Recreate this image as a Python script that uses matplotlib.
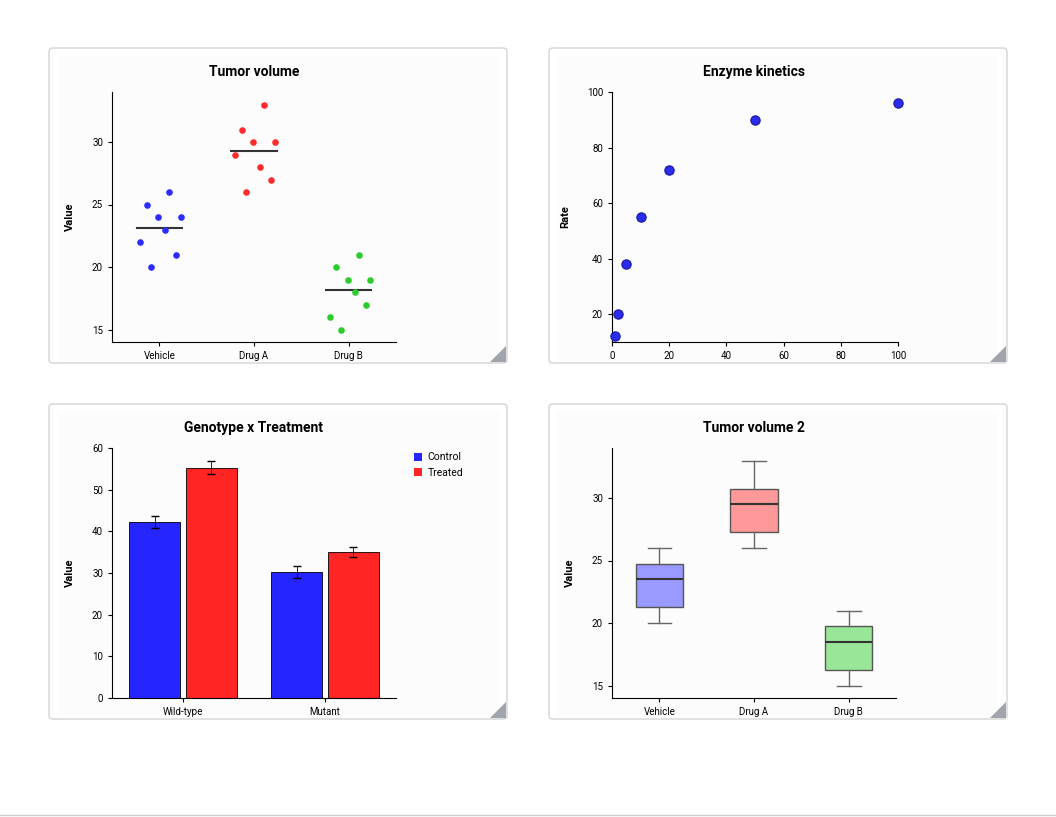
import numpy as np
import matplotlib.pyplot as plt
from matplotlib.patches import FancyBboxPatch, Polygon

groups = ['Vehicle', 'Drug A', 'Drug B']
vehicle = [22, 25, 20, 24, 23, 26, 21, 24]
drug_a = [29, 31, 26, 30, 28, 33, 27, 30]
drug_b = [16, 20, 15, 19, 18, 21, 17, 19]
jitter = [-0.2, -0.13, -0.085, -0.01, 0.065, 0.105, 0.18, 0.225]

substrate = [1, 2, 5, 10, 20, 50, 100]
rate = [12, 20, 38, 55, 72, 90, 96]

genotypes = ['Wild-type', 'Mutant']
control_mean = [42.3, 30.3]
control_err = [1.5, 1.5]
treated_mean = [55.3, 35.0]
treated_err = [1.5, 1.2]

W, H = 1056, 817
fig = plt.figure(figsize=(W / 100, H / 100), dpi=100)
plt.rcParams['font.family'] = ['Roboto', 'DejaVu Sans']


def ax_px(l, t, r, b):
    return fig.add_axes([l / W, 1 - b / H, (r - l) / W, (b - t) / H])


def panel(l, t, r, b, title, tx, ty):
    fig.patches.append(FancyBboxPatch((l / W, 1 - b / H), (r - l) / W, (b - t) / H,
                                      boxstyle='round,pad=0,rounding_size=0.004',
                                      transform=fig.transFigure, fc='white', ec='#d4d4d4', lw=1,
                                      zorder=-3))
    fig.patches.append(FancyBboxPatch(((l + 8) / W, 1 - (b - 2) / H), (r - l - 16) / W, (b - t - 10) / H,
                                      boxstyle='square,pad=0', transform=fig.transFigure,
                                      fc='#fcfcfc', ec='none', zorder=-2))
    fig.patches.append(Polygon([((r - 1) / W, 1 - (b - 17) / H), ((r - 1) / W, 1 - (b - 1) / H),
                                ((r - 17) / W, 1 - (b - 1) / H)], closed=True,
                               transform=fig.transFigure, fc='#a0a4ac', ec='none', zorder=-1))
    fig.text(tx / W, 1 - ty / H, title, ha='center', va='center', fontsize=10, fontweight='bold')


def style(ax, ylabel):
    for s in ['top', 'right']:
        ax.spines[s].set_visible(False)
    ax.set_facecolor('none')
    ax.tick_params(labelsize=7, length=3)
    ax.set_ylabel(ylabel, fontsize=8, fontweight='bold', labelpad=12)


panel(49, 48, 507, 363, 'Tumor volume', 254, 72)
panel(549, 48, 1007, 363, 'Enzyme kinetics', 754, 72)
panel(49, 404, 507, 719, 'Genotype x Treatment', 254, 428)
panel(549, 404, 1007, 719, 'Tumor volume 2', 754, 428)

# scatter
ax1 = ax_px(112, 92, 396, 342)
cols = ['#2b2bff', '#ff2b2b', '#2bcc2b']
for i, vals in enumerate([vehicle, drug_a, drug_b]):
    ax1.scatter(np.array(jitter) + i, vals, s=14, color=cols[i], zorder=3)
    m = np.mean(vals)
    ax1.plot([i - 0.24, i + 0.24], [m, m], color='#333333', lw=1.5)
ax1.set_xlim(-0.5, 2.5)
ax1.set_ylim(14, 34)
ax1.set_xticks(range(3), groups)
ax1.set_yticks([15, 20, 25, 30])
style(ax1, 'Value')

# enzyme
ax2 = ax_px(612, 92, 898, 342)
ax2.scatter(substrate, rate, s=45, color='#2b2bee', edgecolor='#1a1a99', lw=0.8, zorder=3, clip_on=False)
ax2.set_xlim(0, 100)
ax2.set_ylim(10, 100)
ax2.set_yticks([20, 40, 60, 80, 100])
style(ax2, 'Rate')

# bars
ax3 = ax_px(112, 448, 396, 698)
x = np.arange(len(genotypes))
ax3.bar(x - 0.2, control_mean, 0.36, yerr=control_err, color='#2525ff', ec='black', lw=0.6,
        capsize=3, error_kw=dict(lw=0.6), label='Control')
ax3.bar(x + 0.2, treated_mean, 0.36, yerr=treated_err, color='#ff2525', ec='black', lw=0.6,
        capsize=3, error_kw=dict(lw=0.6), label='Treated')
ax3.set_xlim(-0.5, 1.5)
ax3.set_ylim(0, 60)
ax3.set_xticks(x, genotypes)
style(ax3, 'Value')
leg = ax3.legend(loc='upper left', bbox_to_anchor=(1.03, 1.02), frameon=False, fontsize=7.5,
                 handlelength=0.8, handleheight=0.8, handletextpad=0.5)
for h in leg.legend_handles:
    h.set_edgecolor('none')

# boxplot
ax4 = ax_px(612, 448, 896, 698)
stats = []
for name, vals in zip(groups, [vehicle, drug_a, drug_b]):
    q1, med, q3 = np.percentile(vals, [25, 50, 75], method='weibull')
    stats.append(dict(label=name, med=med, q1=q1, q3=q3, whislo=min(vals), whishi=max(vals), fliers=[]))
bp = ax4.bxp(stats, positions=range(3), widths=0.5, patch_artist=True, showfliers=False,
             medianprops=dict(color='#333333', lw=1.5),
             whiskerprops=dict(color='#666666', lw=1), capprops=dict(color='#666666', lw=1))
for patch, c in zip(bp['boxes'], ['#9999ff', '#ff9999', '#99e699']):
    patch.set_facecolor(c)
    patch.set_edgecolor('#555555')
ax4.set_xlim(-0.5, 2.5)
ax4.set_ylim(14, 34)
ax4.set_yticks([15, 20, 25, 30])
style(ax4, 'Value')

fig.add_artist(plt.Line2D([0, 1], [1 - 815 / H, 1 - 815 / H], transform=fig.transFigure, color='#cccccc', lw=1))
fig.savefig('out.png', dpi=100)
